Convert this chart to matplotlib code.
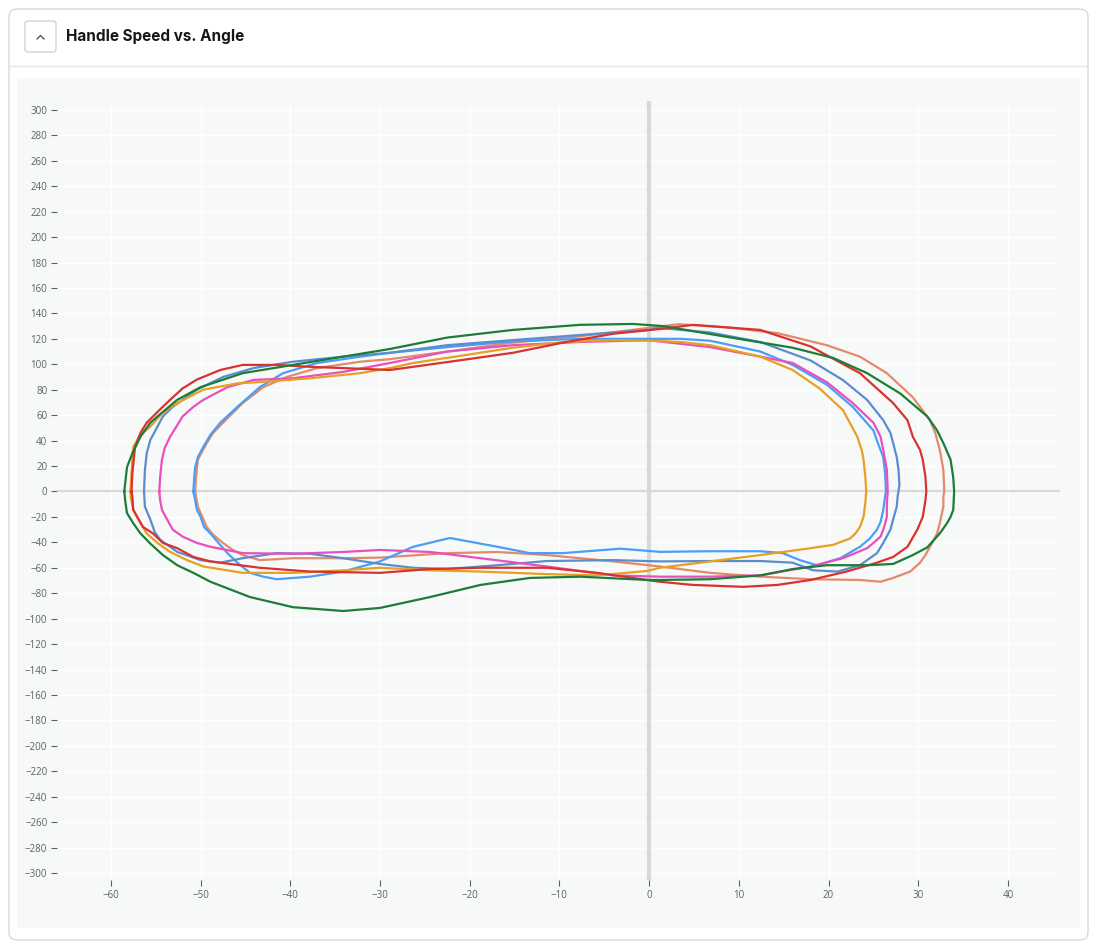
#!/usr/bin/python3
# -*- coding: utf-8 -*-

'''
Handle speed vs. angle, one loop per stroke
'''

import matplotlib
matplotlib.use('Agg')
import matplotlib.pyplot as plt
from matplotlib.patches import FancyBboxPatch, Rectangle
from matplotlib.lines import Line2D

W, H = 1103, 946

# stroke loops: handle angle (deg) and handle speed, clockwise from the catch
green_angle = [-58.5, -58.2, -57.6, -56.7, -55.6, -54.8, -52.6, -50.0, -45.3, -39.7, -34.1, -28.9, -22.5, -15.2,
               -7.7, -1.8, 1.6, 8.7, 16.0, 20.5, 24.3, 28.0, 31.0, 32.1, 32.8, 33.6, 33.9, 34.0, 33.9, 33.6,
               33.2, 32.4, 31.0, 29.4, 27.2, 24.3, 19.8, 16.0, 12.4, 6.8, 1.2, -0.2, -7.7, -13.3, -18.8,
               -24.4, -30.0, -34.1, -39.7, -44.5, -48.9, -50.8, -52.6, -54.2, -55.6, -56.7, -57.5, -58.2, -58.4]
green_speed = [0, 19, 30, 43, 54, 59, 72, 82, 93, 99.5, 106, 112, 121, 127,
               131, 131.7, 130, 121.5, 113, 105, 93, 77, 59, 48, 38, 25, 11, 0, -14.5, -20,
               -25, -33, -44, -50, -57, -58, -58, -61, -66, -69, -69.6, -69.6, -67, -68, -73.5,
               -83, -91.6, -94, -91, -83, -71, -64, -58, -50, -41, -33, -25, -17, -7]

red_angle = [-57.7, -57.6, -57.3, -56.7, -56.0, -54.8, -53.4, -52.0, -50.4, -47.8, -45.3, -41.5, -37.8, -34.1,
             -28.9, -26.3, -20.7, -15.2, -9.6, -4.0, 1.6, 4.9, 12.4, 18.0, 23.5, 27.2, 28.8, 29.4, 30.2,
             30.5, 30.8, 30.9, 30.8, 30.5, 29.9, 28.8, 27.2, 25.4, 22.0, 18.0, 14.3, 10.5, 4.9, 1.2, -0.2,
             -5.8, -11.4, -18.8, -24.4, -30.0, -37.8, -43.4, -48.9, -50.8, -52.6, -54.2, -55.3, -56.4,
             -57.5, -57.6]
red_speed = [0, 14.5, 35, 46, 54, 62.5, 72, 81, 88, 95.5, 99.5, 99.5, 98, 97,
             95.5, 98, 103.5, 109, 117, 124, 128, 131, 127, 114, 93, 69.5, 56, 43, 32.6,
             25, 11.4, 0, -7, -20, -30, -43.5, -51.5, -56, -63, -69.6, -73.5, -75, -73.5, -71, -69.6,
             -64, -60, -60, -61, -64, -63, -60, -55, -51.5, -44.6, -40.5, -33, -28,
             -14.5, -4]

steel_angle = [-56.3, -56.2, -56.0, -55.6, -54.8, -54.2, -53.1, -50.4, -47.5, -44.1, -39.7, -34.1, -28.9, -22.5,
               -15.2, -7.7, -0.2, 1.2, 6.8, 12.4, 18.0, 21.6, 24.3, 26.1, 26.9, 27.2, 27.6, 27.8, 27.9, 27.7,
               27.6, 27.2, 26.9, 26.1, 25.4, 23.5, 21.0, 18.3, 16.0, 12.4, 6.8, 1.2, -4.0, -11.4, -16.9,
               -22.5, -26.3, -30.0, -34.1, -37.8, -41.5, -45.3, -47.8, -50.0, -52.6, -54.5, -55.1, -55.6, -56.2]
steel_speed = [0, 17, 30, 40.5, 51, 59, 66.5, 80, 90, 97, 102, 106, 109, 115,
               119, 123, 127, 128.5, 125, 117.5, 103, 87.6, 72, 56, 46, 38, 27, 17, 5, -4,
               -12, -22, -30, -40.5, -48.5, -58, -63, -62, -56, -54.7, -54.7, -55, -54, -54.7, -58,
               -61, -60, -57, -52.5, -49, -48.5, -52.5, -56, -54, -47.5, -38, -32, -22, -12]

lblue_angle = [-50.8, -50.7, -50.6, -50.3, -49.7, -48.9, -47.8, -45.9, -43.4, -40.8, -37.0, -32.2, -28.9, -22.5,
               -15.2, -7.7, -0.2, 3.5, 6.8, 12.4, 16.0, 19.8, 22.7, 25.0, 25.5, 26.1, 26.3, 26.4, 26.3, 26.1,
               25.8, 25.4, 24.6, 23.5, 21.3, 18.7, 16.8, 14.9, 12.4, 6.8, 1.2, -3.2, -9.6, -13.3, -16.9,
               -22.2, -26.3, -30.0, -34.1, -37.8, -41.5, -43.0, -44.5, -45.9, -47.0, -48.0, -48.9, -49.6,
               -50.0, -50.4, -50.6]
lblue_speed = [0, 11.4, 19, 27, 35, 44.5, 54, 66.5, 82, 93, 101, 106, 109, 113.5,
               118, 120, 120, 120, 118.5, 110, 99.5, 84, 66.5, 48, 38, 27, 14.5, 0, -4, -14.5,
               -24, -30, -37, -43.5, -52.5, -58, -54, -48.5, -47, -47, -47.5, -45, -48.5, -48.5, -43.5,
               -36.6, -43.5, -55, -63, -67, -69, -67, -64, -56, -48.5, -40.5, -33, -28,
               -20, -14.5, -7]

salmon_angle = [-50.6, -50.5, -50.3, -49.3, -48.6, -47.5, -45.3, -43.0, -40.4, -37.0, -32.2, -28.9, -22.5, -15.2,
                -7.7, -0.2, 3.3, 8.7, 14.3, 19.8, 23.5, 26.5, 29.4, 31.3, 31.9, 32.4, 32.8, 32.9, 32.8, 32.8,
                32.4, 32.1, 31.6, 31.3, 30.8, 30.2, 29.1, 27.2, 25.8, 23.5, 18.0, 12.4, 6.8, 1.2, -4.0,
                -11.4, -16.9, -22.5, -30.0, -34.1, -39.7, -43.4, -45.3, -46.4, -47.5, -48.6, -49.3, -49.8, -50.3]
salmon_speed = [0, 11, 25, 38, 46, 54, 69.5, 82, 90, 97, 102, 104, 110, 117,
                122, 128.5, 131.5, 129, 124.5, 115, 106, 93, 74, 56, 46, 32.6, 17, 0, -4, -12,
                -25, -33, -40, -43.5, -50, -56, -63, -68, -71, -69.6, -69, -67, -64, -59, -55,
                -50, -47.6, -48.5, -52, -52.5, -52.5, -54, -50, -46, -40.5, -34, -28, -20, -12]

pink_angle = [-54.6, -54.5, -54.3, -54.0, -53.4, -52.6, -52.0, -50.8, -49.7, -47.0, -44.1, -39.7, -34.1, -28.9,
              -22.5, -15.2, -7.7, -0.2, 6.8, 12.4, 16.0, 19.8, 22.7, 25.0, 25.8, 26.1, 26.5, 26.6, 26.5, 26.5,
              26.2, 25.8, 25.0, 24.3, 21.6, 18.0, 12.4, 6.8, 1.2, -4.0, -11.4, -18.8, -24.4, -30.0, -34.1,
              -39.7, -45.3, -48.9, -50.4, -52.0, -53.1, -53.7, -54.3, -54.5]
pink_speed = [0, 11.4, 25, 34, 43, 52, 59, 66.5, 72, 82, 87.7, 89, 94, 101,
              110, 115, 117.5, 119, 113.5, 106, 101, 86, 69.5, 54, 43, 32.6, 17, 0, -9, -20,
              -28, -35.5, -40.5, -44.6, -52.5, -59, -66, -67, -67, -66, -59, -52.5, -47.6, -46, -47.6,
              -49, -48.5, -43.5, -40.5, -35.5, -30, -22.4, -14.5, -7]

orange_angle = [-57.8, -57.7, -57.5, -56.7, -55.6, -54.2, -52.6, -49.7, -45.9, -43.4, -37.8, -32.2, -28.9, -26.3,
                -20.7, -15.2, -9.6, -4.0, 0.4, 3.5, 6.8, 12.4, 16.0, 19.0, 21.6, 22.6, 23.2, 23.7, 23.9, 24.1,
                24.2, 24.1, 23.9, 23.5, 23.0, 22.4, 20.5, 17.6, 12.4, 6.8, 1.2, -0.2, -5.8, -11.4, -18.8,
                -24.4, -30.0, -34.1, -39.7, -45.3, -49.7, -51.5, -53.4, -54.8, -56.0, -56.7, -57.5, -57.8]
orange_speed = [0, 14.5, 35, 44.5, 51, 62, 69.5, 80, 85, 86, 89, 93, 97, 101,
                107, 113, 117.5, 119, 118.5, 117.5, 115, 106, 95.5, 81, 64, 51, 43, 32.6, 25, 11.4,
                0, -9, -20, -28, -33, -37, -42, -45, -50, -55, -60, -62.5, -66, -65, -63,
                -62, -60, -62, -64, -64, -59, -54, -47.5, -40.5, -33, -25, -14.5, -4]

x_ticks = [-60, -50, -40, -30, -20, -10, 0, 10, 20, 30, 40]
y_ticks = list(range(-300, 301, 20))

curves = [
    (salmon_angle, salmon_speed, '#e38a6d'),
    (lblue_angle, lblue_speed, '#4a9ef7'),
    (steel_angle, steel_speed, '#5a8dce'),
    (pink_angle, pink_speed, '#e94fbd'),
    (orange_angle, orange_speed, '#e6a022'),
    (red_angle, red_speed, '#da3131'),
    (green_angle, green_speed, '#1c7d36'),
]


def fx(px):
    return px / W


def fy(py):
    return 1 - py / H


def main():
    '''
    Draw card, header and the loops
    '''
    fig = plt.figure(figsize=(W / 100, H / 100), dpi=100)
    fig.patch.set_facecolor('white')

    # card outline
    fig.patches.append(FancyBboxPatch((fx(9), fy(940)), fx(1088) - fx(9), fy(9) - fy(940),
                                      boxstyle='round,pad=0,rounding_size=0.008',
                                      transform=fig.transFigure, facecolor='white',
                                      edgecolor='#d6d9dc', lw=1.0, zorder=0))
    fig.add_artist(Line2D([fx(10), fx(1087)], [fy(66), fy(66)], color='#e3e5e7', lw=1.0))

    # collapse button
    fig.patches.append(FancyBboxPatch((fx(25), fy(52)), fx(56) - fx(25), fy(21) - fy(52),
                                      boxstyle='round,pad=0,rounding_size=0.003',
                                      transform=fig.transFigure, facecolor='white',
                                      edgecolor='#cfd3d7', lw=1.0))
    fig.add_artist(Line2D([fx(37), fx(40.5), fx(44)], [fy(39), fy(35.5), fy(39)],
                          color='#444a50', lw=0.9))
    fig.text(fx(66), fy(37), 'Handle Speed vs. Angle', fontsize=11, fontweight='bold',
             family=['Inter', 'DejaVu Sans'], color='#15181b', va='center', ha='left')

    # plot panel
    fig.patches.append(Rectangle((fx(17), fy(928)), fx(1080) - fx(17), fy(78) - fy(928),
                                 transform=fig.transFigure, facecolor='#f7f9f9', edgecolor='none',
                                 zorder=0))

    ax = fig.add_axes([fx(57), fy(880), fx(1060) - fx(57), fy(101) - fy(880)])
    ax.set_zorder(3)
    ax.set_facecolor('#f7f9f9')
    ax.set_xlim(-66, 45.8)
    ax.set_ylim(-305.5, 307)
    for side in ax.spines.values():
        side.set_visible(False)

    ax.set_xticks(x_ticks)
    ax.set_yticks(y_ticks)
    ax.set_xticklabels([str(v).replace('-', '\u2212') for v in x_ticks])
    ax.set_yticklabels([str(v).replace('-', '\u2212') for v in y_ticks])
    ax.tick_params(axis='both', labelsize=7, labelcolor='#5b6168', color='#5b6168',
                   direction='out', width=0.8, length=4.5, pad=2.5)
    for lab in ax.get_xticklabels() + ax.get_yticklabels():
        lab.set_family(['Open Sans', 'DejaVu Sans'])

    ax.grid(True, color='white', lw=1.0)
    ax.set_axisbelow(True)
    ax.axhline(0, color='#d7d9d9', lw=1.6, zorder=1)
    ax.axvline(0, color='#d7d9d9', lw=3.0, zorder=1)

    for angle, speed, colour in curves:
        ax.plot(angle + angle[:1], speed + speed[:1], color=colour, lw=1.6,
                solid_joinstyle='round', zorder=3)

    fig.savefig('out.png', dpi=100)


if __name__ == '__main__':
    main()
